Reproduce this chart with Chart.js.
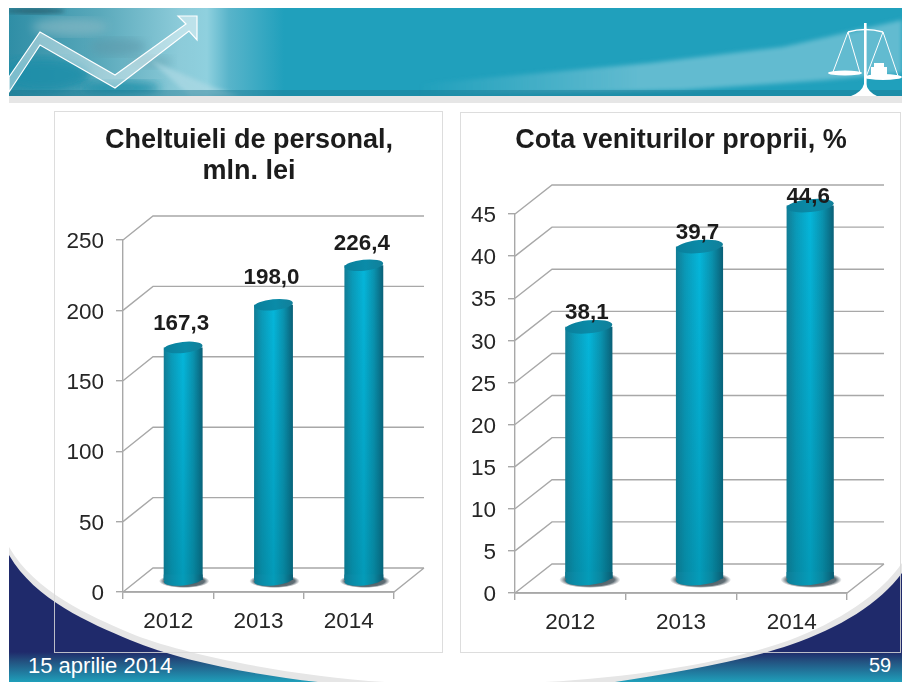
<!DOCTYPE html>
<html lang="ro">
<head>
<meta charset="utf-8">
<title>Cheltuieli de personal și cota veniturilor proprii</title>
<script src="https://cdn.jsdelivr.net/npm/chart.js@4"></script>
<style>
html,body{margin:0;padding:0;background:#fff;width:902px;height:682px;overflow:hidden}
#bg{position:absolute;left:0;top:0}
.panel{position:absolute;box-sizing:border-box;border:1.5px solid rgba(215,215,215,.85)}
canvas.c{position:absolute}
</style>
</head>
<body>
<svg id="bg" width="902" height="682" viewBox="0 0 902 682" xmlns="http://www.w3.org/2000/svg">
<defs>
<linearGradient id="bandL" x1="0" x2="1" y1="0" y2="0">
<stop offset="0" stop-color="#2f8ea6"/><stop offset=".33" stop-color="#5aa9bb"/><stop offset=".62" stop-color="#8ccbd9"/><stop offset=".72" stop-color="#8fd0de"/><stop offset=".8" stop-color="#58b4ca"/><stop offset="1" stop-color="#20a0bc"/>
</linearGradient>
<linearGradient id="swoosh" gradientUnits="userSpaceOnUse" x1="420" x2="640" y1="0" y2="0">
<stop offset="0" stop-color="#62bbd0" stop-opacity="0"/><stop offset="1" stop-color="#62bbd0" stop-opacity="1"/>
</linearGradient>
<linearGradient id="foot" gradientUnits="userSpaceOnUse" x1="0" x2="0" y1="652" y2="682">
<stop offset="0" stop-color="#1f2a6b"/><stop offset=".3" stop-color="#23507f"/><stop offset="1" stop-color="#1f9fba"/>
</linearGradient>
<filter id="b2"><feGaussianBlur stdDeviation="2"/></filter>
<filter id="b4"><feGaussianBlur stdDeviation="5"/></filter>
<clipPath id="bannerClip"><rect x="9" y="8" width="893" height="88"/></clipPath>
</defs>
<rect x="9" y="96" width="893" height="7" fill="#e6e6e6"/>
<rect x="9" y="8" width="893" height="88" fill="#20a0bc"/>
<g clip-path="url(#bannerClip)">
<rect x="9" y="8" width="275" height="88" fill="url(#bandL)"/>
<path d="M420,84 L650,63 L783,47 L902,20 L902,73 L826,80 L683,90 L420,96Z" fill="url(#swoosh)" filter="url(#b2)"/>
<ellipse cx="35" cy="11" rx="30" ry="3" fill="#2a6a7c" filter="url(#b2)"/>
<ellipse cx="70" cy="27" rx="38" ry="9" fill="#84b8c4" opacity=".7" filter="url(#b4)"/>
<ellipse cx="118" cy="47" rx="28" ry="9" fill="#5c96a8" opacity=".55" filter="url(#b4)"/>
<ellipse cx="150" cy="62" rx="22" ry="6" fill="#6aa6b4" opacity=".6" filter="url(#b4)"/>
<ellipse cx="45" cy="75" rx="45" ry="17" fill="#1a8ea9" opacity=".85" filter="url(#b4)"/>
<ellipse cx="120" cy="88" rx="40" ry="7" fill="#1b8fa9" opacity=".85" filter="url(#b4)"/>
<path d="M150,60 L215,88 L240,96 L190,96Z" fill="#b3dce6" opacity=".6" filter="url(#b2)"/>
<rect x="9" y="90" width="893" height="6" fill="#17708a" opacity=".4"/>
<polygon points="9,77 40,32 115,75 186,24 178,16 197,16 197,40 189,31 115,88 40,45 9,92" fill="#fff" fill-opacity=".42" stroke="#fff" stroke-width="1.2"/>
<g fill="#fff" stroke="#fff">
<rect x="864" y="23" width="2.6" height="70" stroke="none"/>
<path d="M848,32 Q865,27 883,32" fill="none" stroke-width="1.4"/>
<path d="M848,32 L833,72 M848,32 L860,73 M883,32 L866,77 M883,32 L898,76" fill="none" stroke-width="1"/>
<ellipse cx="845" cy="73" rx="17" ry="2.6" stroke="none"/>
<ellipse cx="883" cy="77" rx="19" ry="3" stroke="none"/>
<rect x="874" y="63" width="10" height="4" stroke="none"/>
<rect x="871" y="67" width="16" height="8" stroke="none"/>
<path d="M851,96 Q862,92 864,84 L866,84 Q868,92 877,96Z" stroke="none"/>
</g>
</g>
<path d="M9,547 C35,592 90,616 130,633 C180,654 290,676 385,682 L9,682Z" fill="#e6e6e6"/>
<path d="M902,563 C880,595 838,622 790,640 C735,660 640,677 545,682 L902,682Z" fill="#e6e6e6"/>
<path d="M9,555 C35,600 90,623 130,640 C180,661 250,674 318,682 L9,682Z" fill="url(#foot)"/>
<path d="M902,573 C880,603 840,628 790,645 C740,662 670,673 615,682 L902,682Z" fill="url(#foot)"/>
<text x="28" y="672.5" font-family="Liberation Sans, Arial, sans-serif" font-size="22" fill="#fff">15 aprilie 2014</text>
<text x="869" y="671.5" font-family="Liberation Sans, Arial, sans-serif" font-size="20" fill="#fff">59</text>
</svg>
<div class="panel" style="left:54px;top:111px;width:389px;height:542px"></div>
<div class="panel" style="left:459.5px;top:112px;width:441.5px;height:541px"></div>
<canvas class="c" id="left" width="388" height="540" style="left:55px;top:112px;width:388px;height:540px"></canvas>
<canvas class="c" id="right" width="440" height="540" style="left:461px;top:113px;width:440px;height:540px"></canvas>
<script>
const years = ['2012', '2013', '2014'];
const personalTitle = ['Cheltuieli de personal,', 'mln. lei'];
const personalValues = [167.3, 198.0, 226.4];
const personalLabels = ['167,3', '198,0', '226,4'];
const cotaTitle = 'Cota veniturilor proprii, %';
const cotaBarValues = [30.1, 39.7, 44.6];
const cotaLabels = ['38,1', '39,7', '44,6'];

const FONT = '"Liberation Sans", Arial, sans-serif';
const GRID = '#a8a8a8';
const TILT = -0.1;

const cylinder3D = {
  id: 'cylinder3D',
  beforeDatasetsDraw(chart) {
    const o = chart.options.plugins.cylinder3D, c = chart.ctx;
    const a = chart.chartArea, y = chart.scales.y;
    c.save();
    c.strokeStyle = GRID; c.lineWidth = 1.4;
    y.ticks.forEach((t, i) => {
      const p = y.getPixelForTick(i);
      c.beginPath();
      c.moveTo(a.left, p);
      c.lineTo(a.left + o.dx, p + o.dy);
      c.lineTo(a.right + o.dx, p + o.dy);
      if (i === 0) { c.moveTo(a.left, p); c.lineTo(a.right, p); c.lineTo(a.right + o.dx, p + o.dy); }
      c.stroke();
    });
    c.restore();
    const meta = chart.getDatasetMeta(0);
    c.save();
    meta.data.forEach(el => {
      const g = c.createRadialGradient(0, 0, 0, 0, 0, 1);
      g.addColorStop(0, 'rgba(20,40,50,.85)'); g.addColorStop(.8, 'rgba(30,50,60,.7)'); g.addColorStop(1, 'rgba(60,70,80,0)');
      c.save();
      c.translate(el.x + o.dx / 2 + 1, el.base + o.dyBar + o.ry * .2);
      c.scale(el.width * .65, o.ry * 1.25);
      c.fillStyle = g;
      c.beginPath(); c.arc(0, 0, 1, 0, Math.PI * 2); c.fill();
      c.restore();
    });
    c.restore();
    c.save();
    c.translate(o.dx / 2, o.dyBar);
  },
  afterDatasetsDraw(chart) {
    const o = chart.options.plugins.cylinder3D, c = chart.ctx;
    const meta = chart.getDatasetMeta(0);
    meta.data.forEach((el) => {
      const r = el.width / 2, h = el.base - el.y;
      const v = c.createLinearGradient(0, el.y, 0, el.base);
      v.addColorStop(0, 'rgba(0,120,150,0)'); v.addColorStop(1, 'rgba(0,110,130,.38)');
      c.fillStyle = v;
      c.fillRect(el.x - r, el.y, el.width, h);
      const g = c.createLinearGradient(el.x - r, 0, el.x + r, 0);
      g.addColorStop(0, '#0f7c94'); g.addColorStop(.2, '#0a8ba7'); g.addColorStop(.5, '#049cb9');
      g.addColorStop(.76, '#0a869f'); g.addColorStop(1, '#0a5c72');
      c.fillStyle = g;
      c.beginPath(); c.ellipse(el.x, el.base, r, o.ry, TILT, 0, Math.PI * 2); c.fill();
      c.fillRect(el.x - r, el.base - o.ry, el.width, o.ry);
      const t = c.createLinearGradient(el.x - r, 0, el.x + r, 0);
      t.addColorStop(0, '#0a7f9b'); t.addColorStop(.55, '#0a8ba8'); t.addColorStop(1, '#127f99');
      c.fillStyle = t;
      c.beginPath(); c.ellipse(el.x, el.y, r, o.ry, TILT, 0, Math.PI * 2); c.fill();
    });
    c.restore();
    c.save();
    c.font = 'bold 22.4px ' + FONT;
    c.fillStyle = '#1c1c1c';
    c.textAlign = 'center'; c.textBaseline = 'middle';
    meta.data.forEach((el, i) => {
      c.fillText(o.labels[i], el.x + o.dx / 2 - 2, el.y + o.dyBar - o.labelGap[i]);
    });
    c.restore();
  }
};

function barGradient(ctx) {
  const chart = ctx.chart;
  if (!chart.chartArea || ctx.dataIndex === undefined) return '#0a9cba';
  const x = chart.scales.x.getPixelForValue(ctx.dataIndex);
  const w = chart.scales.x.width / 3 * ctx.dataset.barPercentage / 2;
  const g = chart.ctx.createLinearGradient(x - w, 0, x + w, 0);
  g.addColorStop(0, '#127c94'); g.addColorStop(.2, '#0a9ab8'); g.addColorStop(.5, '#05b6da');
  g.addColorStop(.76, '#0a92ae'); g.addColorStop(1, '#0a5f76');
  return g;
}

function makeChart(id, cfg) {
  return new Chart(document.getElementById(id), {
    type: 'bar',
    data: {
      labels: years,
      datasets: [{
        data: cfg.values, yAxisID: 'y1', xAxisID: 'x',
        barPercentage: cfg.barPct, categoryPercentage: 1,
        backgroundColor: barGradient, borderWidth: 0
      }]
    },
    plugins: [cylinder3D],
    options: {
      responsive: false, animation: false,
      layout: { padding: 0 },
      plugins: {
        legend: { display: false },
        tooltip: { enabled: false },
        title: {
          display: true, text: cfg.title, color: '#1c1c1c',
          font: { family: FONT, size: 27, weight: 'bold', lineHeight: 1.15 },
          padding: { top: cfg.titleTop, bottom: cfg.titleBottom }
        },
        cylinder3D: { dx: cfg.dx, dy: cfg.dy, dyBar: cfg.dyBar, ry: cfg.ry, labels: cfg.labels, labelGap: cfg.labelGap }
      },
      scales: {
        x: {
          type: 'category', position: 'bottom',
          afterFit: s => { s.height = 60; },
          grid: { display: true, drawOnChartArea: false, tickLength: 7, color: GRID, lineWidth: 1.4, offset: true },
          border: { display: true, color: GRID, width: 1.4 },
          ticks: { color: '#262626', padding: 9, font: { family: FONT, size: 22.5 }, maxRotation: 0 }
        },
        y: {
          type: 'linear', position: 'left', min: 0, max: cfg.max,
          afterFit: s => { s.width = cfg.leftW; },
          grid: { display: true, drawOnChartArea: false, tickLength: 7, color: GRID, lineWidth: 1.4 },
          border: { display: true, color: GRID, width: 1.4 },
          ticks: { stepSize: cfg.step, color: '#262626', padding: 12, labelOffset: 2, font: { family: FONT, size: 22.5 } }
        },
        y1: {
          type: 'linear', position: 'right', min: 0, max: cfg.barMax, display: true,
          afterFit: s => { s.width = cfg.rightW; },
          grid: { display: false }, border: { display: false }, ticks: { display: false }
        }
      }
    }
  });
}

makeChart('left', {
  values: personalValues, labels: personalLabels, title: personalTitle,
  max: 250, step: 50, barMax: 253.2, barPct: 0.43,
  dx: 30, dy: -24, dyBar: -12, ry: 5.5,
  leftW: 68, rightW: 49, titleTop: 13, titleBottom: 52.9,
  labelGap: [24, 27, 21]
});
makeChart('right', {
  values: cotaBarValues, labels: cotaLabels, title: cotaTitle,
  max: 45, step: 5, barMax: 45.33, barPct: 0.426,
  dx: 37, dy: -29, dyBar: -14.5, ry: 6.5,
  leftW: 54, rightW: 54, titleTop: 12, titleBottom: 57.95,
  labelGap: [14, 14, 9]
});
</script>
</body>
</html>
